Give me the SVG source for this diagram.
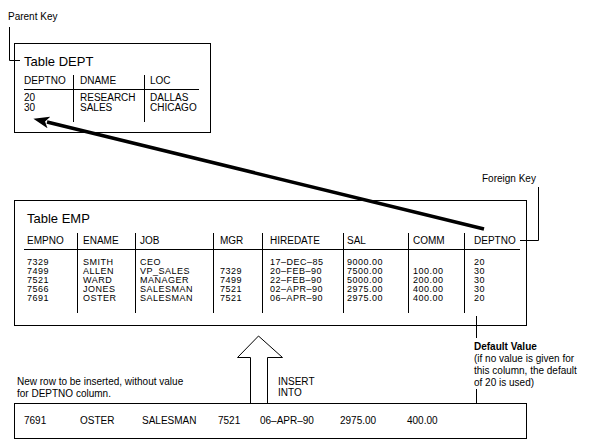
<svg xmlns="http://www.w3.org/2000/svg" width="592" height="448" viewBox="0 0 592 448">
<style>
text{font-family:"Liberation Sans",Arial,sans-serif;font-size:10px;fill:#000}
.t{font-size:13px}
.b{font-weight:bold}
.d text{font-size:9px;letter-spacing:0.5px}
.box{fill:none;stroke:#000;stroke-width:1}
.ln{fill:none;stroke:#000;stroke-width:1}
</style>
<defs>
<marker id="ah" markerUnits="userSpaceOnUse" markerWidth="16" markerHeight="12" refX="2" refY="6" orient="auto">
<path d="M16,6 L0,0 L4,6 L0,12 Z" fill="#000"/>
</marker>
</defs>
<rect width="592" height="448" fill="#fff"/>

<g id="parent-key">
<text x="8" y="20">Parent Key</text>
</g>

<g id="dept">
<rect class="box" x="14.5" y="43.5" width="196" height="89"/>
<text class="t" x="24" y="66">Table DEPT</text>
<text x="24" y="84">DEPTNO</text>
<text x="80" y="84">DNAME</text>
<text x="150" y="84">LOC</text>
<line class="ln" x1="24" y1="89.5" x2="199" y2="89.5"/>
<line class="ln" x1="73.5" y1="75" x2="73.5" y2="122"/>
<line class="ln" x1="144.5" y1="75" x2="144.5" y2="122"/>
<text x="24" y="101">20</text>
<text x="24" y="111">30</text>
<text x="80" y="101">RESEARCH</text>
<text x="80" y="111">SALES</text>
<text x="150" y="101">DALLAS</text>
<text x="150" y="111">CHICAGO</text>
</g>

<g id="foreign-key">
<text x="482" y="182">Foreign Key</text>
</g>

<g id="emp">
<rect class="box" x="14.5" y="200.5" width="512" height="125"/>
<text class="t" x="27" y="223">Table EMP</text>
<text x="27" y="244">EMPNO</text>
<text x="83" y="244">ENAME</text>
<text x="140" y="244">JOB</text>
<text x="220" y="244">MGR</text>
<text x="270" y="244">HIREDATE</text>
<text x="347" y="244">SAL</text>
<text x="413" y="244">COMM</text>
<text x="474" y="244">DEPTNO</text>
<line class="ln" x1="24" y1="249.5" x2="520" y2="249.5"/>
<line class="ln" x1="77.5" y1="233" x2="77.5" y2="313"/>
<line class="ln" x1="135.5" y1="233" x2="135.5" y2="313"/>
<line class="ln" x1="213.5" y1="233" x2="213.5" y2="313"/>
<line class="ln" x1="262.5" y1="233" x2="262.5" y2="313"/>
<line class="ln" x1="343.5" y1="233" x2="343.5" y2="313"/>
<line class="ln" x1="408.5" y1="233" x2="408.5" y2="313"/>
<line class="ln" x1="464.5" y1="233" x2="464.5" y2="313"/>
<g class="d">
<text x="27" y="265">7329</text><text x="27" y="274">7499</text><text x="27" y="283">7521</text><text x="27" y="292">7566</text><text x="27" y="301">7691</text>
<text x="83" y="265">SMITH</text><text x="83" y="274">ALLEN</text><text x="83" y="283">WARD</text><text x="83" y="292">JONES</text><text x="83" y="301">OSTER</text>
<text x="140" y="265">CEO</text><text x="140" y="274">VP_SALES</text><text x="140" y="283">MANAGER</text><text x="140" y="292">SALESMAN</text><text x="140" y="301">SALESMAN</text>
<text x="220" y="274">7329</text><text x="220" y="283">7499</text><text x="220" y="292">7521</text><text x="220" y="301">7521</text>
<text x="270" y="265">17–DEC–85</text><text x="270" y="274">20–FEB–90</text><text x="270" y="283">22–FEB–90</text><text x="270" y="292">02–APR–90</text><text x="270" y="301">06–APR–90</text>
<text x="347" y="265">9000.00</text><text x="347" y="274">7500.00</text><text x="347" y="283">5000.00</text><text x="347" y="292">2975.00</text><text x="347" y="301">2975.00</text>
<text x="413" y="274">100.00</text><text x="413" y="283">200.00</text><text x="413" y="292">400.00</text><text x="413" y="301">400.00</text>
<text x="474" y="265">20</text><text x="474" y="274">30</text><text x="474" y="283">30</text><text x="474" y="292">30</text><text x="474" y="301">20</text>
</g>
</g>

<g id="default-value">
<text class="b" x="474" y="350">Default Value</text>
<text x="474" y="362">(if no value is given for</text>
<text x="474" y="374">this column, the default</text>
<text x="474" y="386">of 20 is used)</text>
</g>

<g id="new-row-label">
<text x="17" y="385">New row to be inserted, without value</text>
<text x="17" y="397">for DEPTNO column.</text>
</g>

<g id="insert-into">
<text x="278" y="385">INSERT</text>
<text x="278" y="396">INTO</text>
</g>

<g id="new-row">
<rect class="box" x="14.5" y="403.5" width="512" height="35"/>
<text x="24" y="424">7691</text>
<text x="80" y="424">OSTER</text>
<text x="142" y="424">SALESMAN</text>
<text x="218" y="424">7521</text>
<text x="260" y="424">06–APR–90</text>
<text x="340" y="424">2975.00</text>
<text x="407" y="424">400.00</text>
</g>

<g id="connectors">
<path class="ln" d="M9.5,27 V60.5 H20"/>
<path class="ln" d="M538.5,187 V240.5 H520"/>
<line class="ln" x1="476.5" y1="316" x2="476.5" y2="338"/>
<line class="ln" x1="476.5" y1="389" x2="476.5" y2="404"/>
<line x1="484" y1="229" x2="47" y2="122" stroke="#000" stroke-width="3.5" marker-end="url(#ah)"/>
<path d="M250.5,403 V357.5 H237.5 L258.5,336 L282.5,357.5 H267.5 V403" fill="#fff" stroke="#000" stroke-width="1"/>
</g>
</svg>
